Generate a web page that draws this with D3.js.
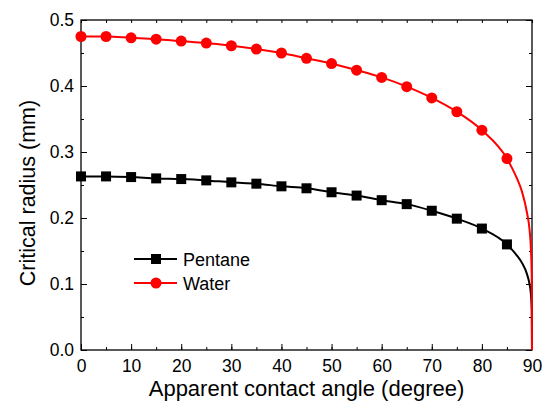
<!DOCTYPE html>
<html><head><meta charset="utf-8">
<script src="https://cdn.jsdelivr.net/npm/d3@7/dist/d3.min.js"></script>
<style>body{margin:0;background:#fff}svg{display:block}text{font-family:"Liberation Sans",Arial,sans-serif}</style>
</head><body><svg id="c" width="546" height="408"></svg>
<script>
const angles = [0,5,10,15,20,25,30,35,40,45,50,55,60,65,70,75,80,85];
const pentane = [0.263,0.263,0.262,0.260,0.259,0.257,0.254,0.252,0.248,0.245,0.239,0.234,0.227,0.221,0.211,0.199,0.184,0.160];
const water = [0.475,0.475,0.473,0.471,0.468,0.465,0.461,0.456,0.450,0.442,0.434,0.424,0.413,0.399,0.382,0.361,0.333,0.290];
const tailAngles = [86,87,88,89,89.5,89.8,89.95,90];
const pentaneTail = [0.152,0.143,0.132,0.115,0.100,0.083,0.060,0];
const waterTail = [0.276,0.260,0.240,0.208,0.183,0.150,0.110,0];
const xTicks = [0,10,20,30,40,50,60,70,80,90];
const yTicks = [0.0,0.1,0.2,0.3,0.4,0.5];
const seriesNames = ["Pentane","Water"];
const colors = ["#000000","#ff0000"];

const svg = d3.select("#c");
const m = {l:81, r:532, t:20, b:350};
const x = d3.scaleLinear().domain([0,90]).range([m.l,m.r]);
const y = d3.scaleLinear().domain([0,0.5]).range([m.b,m.t]);

const minorX = d3.range(0,91,5), minorY = d3.range(0,0.501,0.05);
function ax(g, axis){ g.call(axis); g.select(".domain").remove(); g.selectAll("line").attr("stroke","#000").attr("stroke-width",1); }
// bottom
svg.append("g").attr("transform",`translate(0,${m.b})`).call(g=>ax(g,d3.axisBottom(x).tickValues(minorX).tickSize(-3).tickFormat("")));
svg.append("g").attr("transform",`translate(0,${m.b})`).call(g=>ax(g,d3.axisBottom(x).tickValues(xTicks).tickSize(-6).tickPadding(10).tickFormat(d3.format("d"))))
  .selectAll("text").attr("font-size",17.5).attr("fill","#000");
// top
svg.append("g").attr("transform",`translate(0,${m.t})`).call(g=>ax(g,d3.axisTop(x).tickValues(minorX).tickSize(-3).tickFormat("")));
// left
svg.append("g").attr("transform",`translate(${m.l},0)`).call(g=>ax(g,d3.axisLeft(y).tickValues(minorY).tickSize(-3).tickFormat("")));
svg.append("g").attr("transform",`translate(${m.l},0)`).call(g=>ax(g,d3.axisLeft(y).tickValues(yTicks).tickSize(-6).tickPadding(7).tickFormat(d3.format(".1f"))))
  .selectAll("text").attr("font-size",17.5).attr("fill","#000");
// right
svg.append("g").attr("transform",`translate(${m.r},0)`).call(g=>ax(g,d3.axisRight(y).tickValues(minorY).tickSize(-3).tickFormat("")));
svg.append("g").attr("transform",`translate(${m.r},0)`).call(g=>ax(g,d3.axisRight(y).tickValues(yTicks).tickSize(-6).tickFormat("")));

svg.append("rect").attr("x",m.l).attr("y",m.t).attr("width",m.r-m.l).attr("height",m.b-m.t)
  .attr("fill","none").attr("stroke","#000").attr("stroke-width",1.3);

const line = d3.line().x(d=>x(d[0])).y(d=>y(d[1])).curve(d3.curveMonotoneX);
const series = [
  {name:seriesNames[0], vals:pentane, tail:pentaneTail, color:colors[0], shape:"square"},
  {name:seriesNames[1], vals:water, tail:waterTail, color:colors[1], shape:"circle"}
];
series.forEach(s=>{
  const pts = angles.map((a,i)=>[a,s.vals[i]]).concat(tailAngles.map((a,i)=>[a,s.tail[i]]));
  svg.append("path").attr("d",line(pts)).attr("fill","none").attr("stroke",s.color).attr("stroke-width",2);
  const g = svg.append("g");
  angles.forEach((a,i)=>{
    if(s.shape==="square") g.append("rect").attr("x",x(a)-5).attr("y",y(s.vals[i])-5).attr("width",10).attr("height",10).attr("fill",s.color);
    else g.append("circle").attr("cx",x(a)).attr("cy",y(s.vals[i])).attr("r",5.5).attr("fill",s.color);
  });
});

// legend
series.forEach((s,i)=>{
  const ly = 259 + i*24;
  svg.append("line").attr("x1",134).attr("x2",177).attr("y1",ly).attr("y2",ly).attr("stroke",s.color).attr("stroke-width",2);
  if(s.shape==="square") svg.append("rect").attr("x",151).attr("y",ly-5).attr("width",10).attr("height",10).attr("fill",s.color);
  else svg.append("circle").attr("cx",156).attr("cy",ly).attr("r",5.5).attr("fill",s.color);
  svg.append("text").attr("x",183).attr("y",ly+6.5).attr("font-size",18).attr("fill","#000").text(s.name);
});

svg.append("text").attr("x",(m.l+m.r)/2).attr("y",396).attr("text-anchor","middle").attr("font-size",22).text("Apparent contact angle (degree)");
svg.append("text").attr("transform",`translate(35,${(m.t+m.b)/2 + 8}) rotate(-90)`).attr("text-anchor","middle").attr("font-size",21.5).text("Critical radius (mm)");
</script></body></html>
